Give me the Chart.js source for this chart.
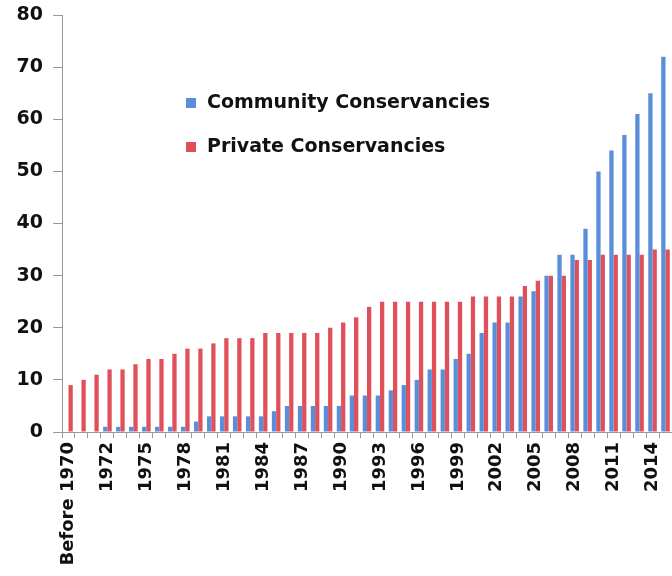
<!DOCTYPE html>
<html>
<head>
<meta charset="utf-8">
<script src="https://cdn.jsdelivr.net/npm/chart.js@4"></script>
<style>
  html, body { margin: 0; padding: 0; background: #fff; }
  #wrap { width: 672px; height: 576px; }
</style>
</head>
<body>
<div id="wrap"><canvas id="conservancyChart" width="672" height="576"></canvas></div>
<script>
const years = [
    'Before 1970', '1970', '1971', '1972', '1973', '1974', '1975', '1976', '1977', '1978',
    '1979', '1980', '1981', '1982', '1983', '1984', '1985', '1986', '1987', '1988',
    '1989', '1990', '1991', '1992', '1993', '1994', '1995', '1996', '1997', '1998',
    '1999', '2000', '2001', '2002', '2003', '2004', '2005', '2006', '2007', '2008',
    '2009', '2010', '2011', '2012', '2013', '2014', '2015'
];

const community = [
    0, 0, 0, 1, 1, 1, 1, 1, 1, 1,
    2, 3, 3, 3, 3, 3, 4, 5, 5, 5,
    5, 5, 7, 7, 7, 8, 9, 10, 12, 12,
    14, 15, 19, 21, 21, 26, 27, 30, 34, 34,
    39, 50, 54, 57, 61, 65, 72
];

const privateCons = [
    9, 10, 11, 12, 12, 13, 14, 14, 15, 16,
    16, 17, 18, 18, 18, 19, 19, 19, 19, 19,
    20, 21, 22, 24, 25, 25, 25, 25, 25, 25,
    25, 26, 26, 26, 26, 28, 29, 30, 30, 33,
    33, 34, 34, 34, 34, 35, 35
];

const yTicks = [0, 10, 20, 30, 40, 50, 60, 70, 80];

const BLUE = '#5b8ed8';
const RED = '#e0505a';
const AXIS = '#9a9a9a';
const FONT = '"DejaVu Sans", sans-serif';

// legend sits inside the plot, upper middle
const legendBox = {
    id: 'legendBox',
    afterDraw(chart) {
        const ctx = chart.ctx;
        ctx.save();
        ctx.font = 'bold 19px ' + FONT;
        ctx.textBaseline = 'middle';
        chart.data.datasets.forEach((ds, i) => {
            const y = 103 + i * 44;
            ctx.fillStyle = ds.backgroundColor;
            ctx.fillRect(186, y - 5, 10, 10);
            ctx.fillStyle = '#111';
            ctx.fillText(ds.label, 207, y);
        });
        ctx.restore();
    }
};

const ctx = document.getElementById('conservancyChart').getContext('2d');
new Chart(ctx, {
    type: 'bar',
    data: {
        labels: years,
        datasets: [
            {
                label: 'Community Conservancies',
                data: community,
                backgroundColor: BLUE,
                categoryPercentage: 0.66,
                barPercentage: 1.0
            },
            {
                label: 'Private Conservancies',
                data: privateCons,
                backgroundColor: RED,
                categoryPercentage: 0.66,
                barPercentage: 1.0
            }
        ]
    },
    options: {
        responsive: false,
        animation: false,
        layout: { padding: { top: 15, right: 0, left: 0, bottom: 0 } },
        plugins: {
            legend: { display: false },
            tooltip: { enabled: false }
        },
        scales: {
            x: {
                grid: {
                    display: true,
                    drawOnChartArea: false,
                    drawTicks: true,
                    tickLength: 6,
                    color: AXIS,
                    offset: true
                },
                border: { display: true, color: AXIS },
                ticks: {
                    autoSkip: false,
                    maxRotation: 90,
                    minRotation: 90,
                    padding: 4,
                    color: '#111',
                    font: { family: FONT, size: 18, weight: 'bold' },
                    callback: function(value, index) {
                        return index % 3 === 0 ? this.getLabelForValue(value) : '';
                    }
                },
                afterFit: function(scale) {
                    scale.height = 144;
                    scale.paddingLeft = 0;
                    scale.paddingRight = 0;
                }
            },
            y: {
                min: 0,
                max: 80,
                afterBuildTicks: function(scale) {
                    scale.ticks = yTicks.map(v => ({ value: v }));
                },
                grid: {
                    display: true,
                    drawOnChartArea: false,
                    drawTicks: true,
                    tickLength: 9,
                    color: AXIS
                },
                border: { display: true, color: AXIS },
                ticks: {
                    padding: 10,
                    color: '#111',
                    font: { family: FONT, size: 19, weight: 'bold' }
                },
                afterFit: function(scale) {
                    scale.width = 62;
                    scale.paddingTop = 0;
                    scale.paddingBottom = 0;
                }
            }
        }
    },
    plugins: [legendBox]
});
</script>
</body>
</html>
